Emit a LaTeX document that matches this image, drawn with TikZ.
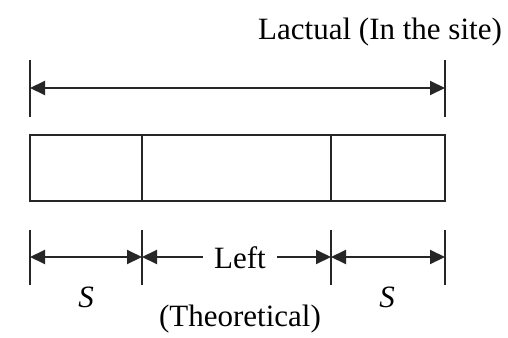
\documentclass[tikz,border=0pt]{standalone}
\usepackage{fontspec}
\setmainfont{Liberation Serif}
\usetikzlibrary{arrows.meta}
\begin{document}
\begin{tikzpicture}[x=1pt,y=-1pt,
  ln/.style={line width=2pt, draw=black!85},
  dim/.style={line width=2pt, draw=black!85, -{Triangle[length=15pt,width=14pt]}},
  dimboth/.style={line width=2pt, draw=black!85, {Triangle[length=15pt,width=14pt]}-{Triangle[length=15pt,width=14pt]}},
  lbl/.style={font=\fontsize{31}{34}\selectfont, inner sep=0pt},
  tick/.style={line width=1.8pt, draw=black!85}]
\useasboundingbox (0,0) rectangle (508,337);
% top dimension
\coordinate (tlt) at (30,60); \coordinate (tlb) at (30,117);
\coordinate (trt) at (445,60); \coordinate (trb) at (445,117);
\coordinate (tl) at (30,88); \coordinate (tr) at (445,88);
\draw[tick] (tlt) -- (tlb);
\draw[tick] (trt) -- (trb);
\draw[dimboth] (tl) -- (tr);
\node[lbl] (lactual) at (380,32) {Lactual (In the site)};
% box
\coordinate (b1) at (30,135); \coordinate (b2) at (445,201);
\draw[ln] (b1) rectangle (b2);
\coordinate (d1t) at (142,135); \coordinate (d1b) at (142,201);
\coordinate (d2t) at (331,135); \coordinate (d2b) at (331,201);
\draw[ln] (d1t) -- (d1b);
\draw[ln] (d2t) -- (d2b);
% bottom ticks
\foreach \x/\n in {30/a,142/b,331/c,445/d}{
  \coordinate (\n t) at (\x,230); \coordinate (\n b) at (\x,285);
  \coordinate (\n m) at (\x,257);
  \draw[tick] (\n t) -- (\n b);
}
\draw[dimboth] (am) -- (bm);
\draw[dimboth] (cm) -- (dm);
\node[lbl, inner xsep=11pt] (left) at (240,258) {Left};
\draw[dim] (left.west |- bm) -- (bm);
\draw[dim] (left.east |- cm) -- (cm);
\node[lbl] (s1) at (86,297) {\itshape S};
\node[lbl] (s2) at (387,297) {\itshape S};
\node[lbl] (theo) at (240,319) {(Theoretical)};
\end{tikzpicture}
\end{document}
